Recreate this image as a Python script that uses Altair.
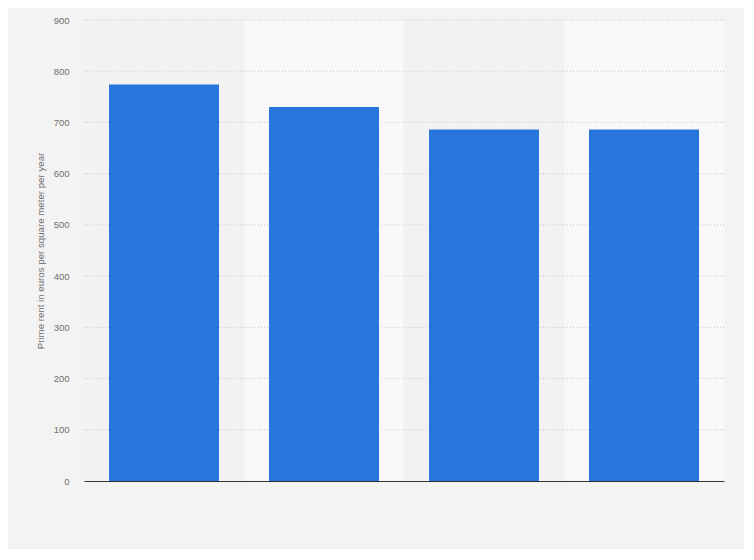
import altair as alt
import pandas as pd

categories = ["Category 1", "Category 2", "Category 3", "Category 4"]
rents = [774, 730, 686, 686]
band_shades = ["dark", "light", "dark", "light"]
y_ticks = [0, 100, 200, 300, 400, 500, 600, 700, 800, 900]
grid_values = [100, 200, 300, 400, 500, 600, 700, 800, 900]

df = pd.DataFrame({"category": categories, "rent": rents, "shade": band_shades})
grid_df = pd.DataFrame({"v": grid_values})

FONT = "Arial"
y_scale = alt.Scale(domain=[0, 900], nice=False)
y_axis = alt.Axis(values=y_ticks, grid=False, domain=False, ticks=False,
                  labelPadding=15, labelColor="#707070", labelFontSize=9.5,
                  labelFont=FONT,
                  title="Prime rent in euros per square meter per year",
                  titleColor="#707070", titleFontSize=9.7, titleFont=FONT,
                  titleFontWeight="normal", titlePadding=8)

bands = alt.Chart(df).mark_rect().encode(
    x=alt.X("category:N", sort=categories,
            scale=alt.Scale(paddingInner=0, paddingOuter=0), axis=None),
    color=alt.Color("shade:N",
                    scale=alt.Scale(domain=["dark", "light"], range=["#f2f2f2", "#f8f8f8"]),
                    legend=None),
)

rules = alt.Chart(grid_df).mark_rule(color="#c8c8c8", strokeDash=[1, 2], strokeWidth=1).encode(
    y=alt.Y("v:Q", scale=y_scale, axis=y_axis, title="Prime rent in euros per square meter per year")
)

bars = alt.Chart(df).mark_bar(color="#2876dd").encode(
    x=alt.X("category:N", sort=categories,
            scale=alt.Scale(paddingInner=0.3125, paddingOuter=0.15625),
            axis=alt.Axis(labels=False, ticks=False, title=None,
                          domainColor="#333333", domainWidth=1.2, zindex=1)),
    y=alt.Y("rent:Q", scale=y_scale, axis=y_axis,
            title="Prime rent in euros per square meter per year"),
)

chart = alt.layer(bands, rules, bars).resolve_scale(
    x="independent", color="independent"
).properties(
    width=640,
    height=461,
    padding={"left": 76, "top": 12, "right": 20, "bottom": 68},
    autosize=alt.AutoSizeParams(type="none"),
).configure(background="#f3f3f3").configure_view(stroke=None)

chart.save("out.html", embed_options={"renderer": "svg", "actions": False})
